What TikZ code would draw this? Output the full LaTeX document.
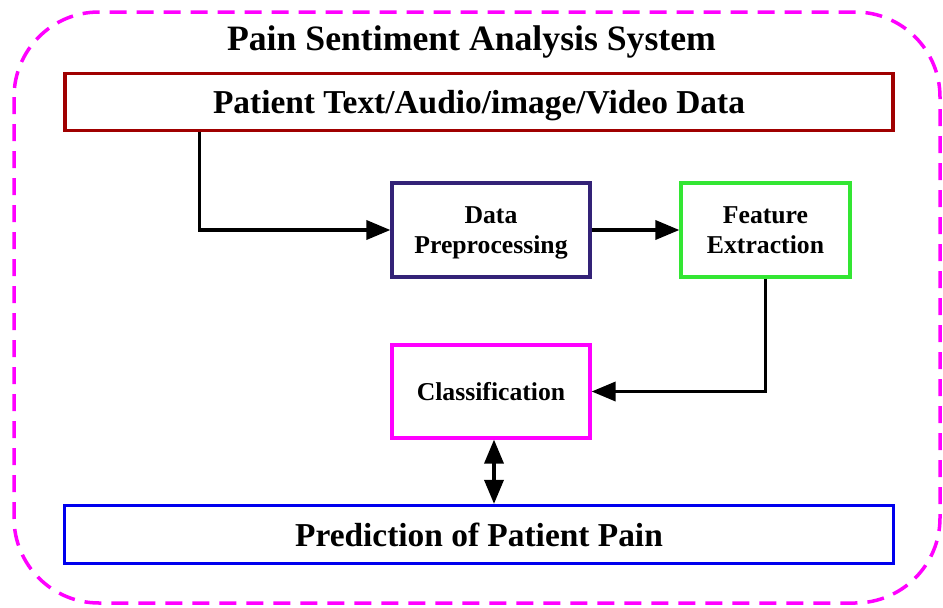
\documentclass[tikz,border=0pt]{standalone}
\usepackage{fontspec}
\setmainfont{Liberation Serif}
\usetikzlibrary{arrows.meta}

\definecolor{boxred}{RGB}{160,0,0}
\definecolor{boxnavy}{RGB}{51,34,119}
\definecolor{boxgreen}{RGB}{51,230,51}
\definecolor{boxmag}{RGB}{255,0,255}
\definecolor{boxblue}{RGB}{0,0,238}

\tikzset{
  frame/.style={draw=boxmag, line width=3.5pt, dash pattern=on 17pt off 10pt, rounded corners=85pt},
  wide/.style={draw, line width=3.2pt, inner sep=0pt, minimum height=57pt,
    text height=25pt, text depth=2pt,
    font=\fontsize{33.4}{38}\selectfont\bfseries},
  stage/.style={draw, line width=3.2pt, inner sep=0pt, minimum height=94pt,
    align=center, text height=48pt, text depth=2pt,
    font=\fontsize{25.7}{30}\selectfont\bfseries},
  arr/.style={line width=3.5pt, -{Triangle[length=24pt,width=19pt]}},
  darr/.style={line width=3.5pt, {Triangle[length=24pt,width=19pt]}-{Triangle[length=24pt,width=19pt]}},
}

\begin{document}
\begin{tikzpicture}[x=1pt,y=-1pt]
  \useasboundingbox (0,0) rectangle (943,608);

  % system boundary
  \draw[frame] (14,12) rectangle (940,603);
  \node[anchor=base, font=\fontsize{35.7}{40}\selectfont\bfseries] (title) at (471.5,50)
    {Pain Sentiment Analysis System};

  % input and output bars
  \node[wide, draw=boxred, minimum width=828pt] (input) at (479,102)
    {Patient Text/Audio/image/Video Data};
  \node[wide, draw=boxblue, minimum width=829pt, minimum height=58pt] (pred) at (479,534.5)
    {Prediction of Patient Pain};

  % processing stages
  \node[stage, draw=boxnavy, minimum width=198pt] (prep) at (491,230)
    {Data\\Preprocessing};
  \node[stage, draw=boxgreen, minimum width=169pt] (feat) at (765.5,230)
    {Feature\\Extraction};
  \node[stage, draw=boxmag, minimum width=198pt, minimum height=93pt,
    text height=19pt, text depth=2pt] (cls) at (491,391.5)
    {Classification};

  % flow
  \draw[arr] ([xshift=136pt]input.south west) |- (prep.west);
  \draw[arr] (prep.east) -- (feat.west);
  \draw[arr] (feat.south) |- (cls.east);
  \draw[darr] ([xshift=3pt]cls.south) -- ([xshift=3pt]cls.south |- pred.north);
\end{tikzpicture}
\end{document}
